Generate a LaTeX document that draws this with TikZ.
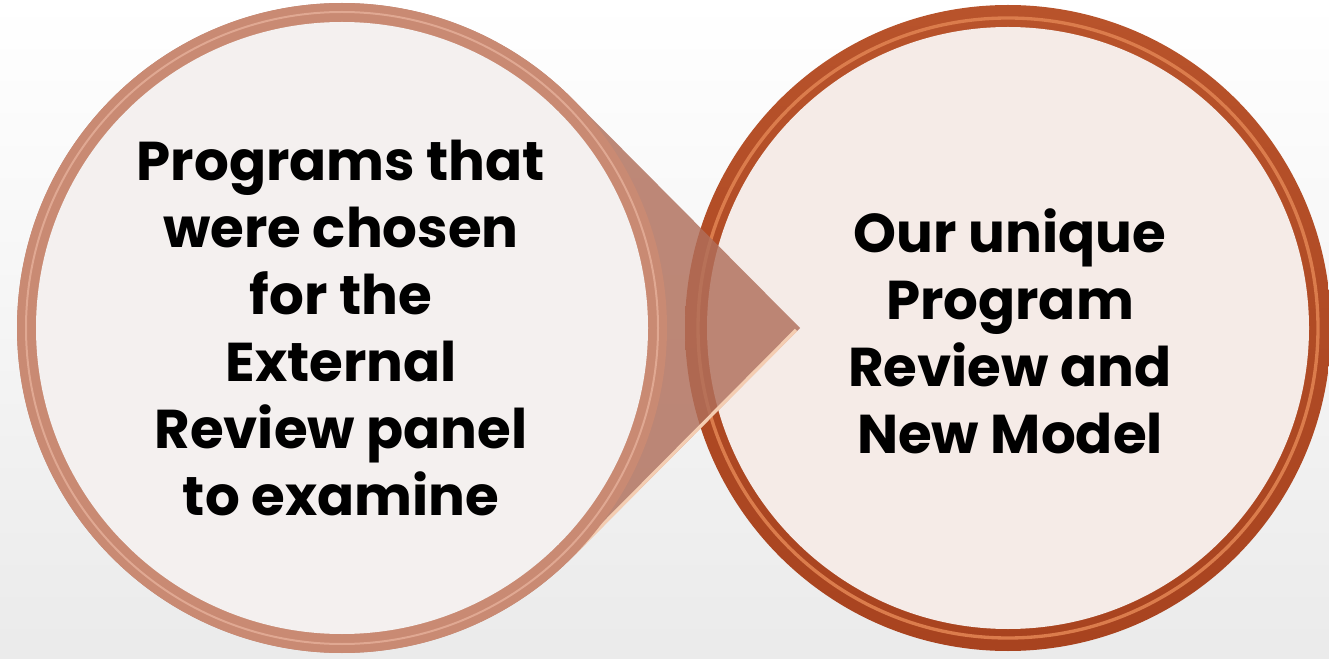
\documentclass[tikz,border=0pt]{standalone}
\usepackage{fontspec}
\setmainfont{Poppins}
\usetikzlibrary{calc}
\definecolor{copper}{HTML}{C98A73}
\definecolor{copperdark}{HTML}{B06F5B}
\definecolor{copperlight}{HTML}{E0A892}
\definecolor{peach}{HTML}{F4CDB2}
\definecolor{rust}{HTML}{B8532B}
\definecolor{rustdark}{HTML}{A8431F}
\definecolor{rustlight}{HTML}{DB7C4C}
\definecolor{paleleft}{HTML}{F4F0EF}
\definecolor{paleright}{HTML}{F5EBE7}
\tikzset{
  bubble text/.style={align=center, text=black,
    font=\fontsize{41}{50.25}\selectfont\bfseries},
}
\begin{document}
\begin{tikzpicture}[x=0.75pt,y=0.75pt]
 \shade[top color=white, bottom color=black!8] (0,0) rectangle (1329,658);
 \useasboundingbox (0,0) rectangle (1329,658);

 \coordinate (lc) at (342,330);
 \coordinate (rc) at (1008,330);
 \coordinate (tip) at (800,330);

 % right circle
 \shade[top color=rust, bottom color=rustdark] (rc) circle[radius=323];
 \draw[rustlight, line width=2.5] (rc) circle[radius=310];
 \fill[paleright] (rc) circle[radius=301];

 % left circle with its pointer
 \fill[copperdark, fill opacity=0.82] (tip) -- ($(lc)+(44.8:325)$)
   arc[start angle=44.8, end angle=315.2, radius=325] -- cycle;
 \draw[peach, line width=2.5] ($(tip)+(-4,-2)$) -- ($(lc)+(-44.8:325)+(2,4)$);
 \fill[copper] (lc) circle[radius=325];
 \draw[copperlight, line width=1.5] (lc) circle[radius=316];
 \fill[paleleft] (lc) circle[radius=306];

 \node[bubble text] (lefttext) at (341,330) {Programs that\\were chosen\\for the\\External\\Review panel\\to examine};
 \node[bubble text] (righttext) at (1010,327) {Our unique\\Program\\Review and\\New Model};
\end{tikzpicture}
\end{document}
